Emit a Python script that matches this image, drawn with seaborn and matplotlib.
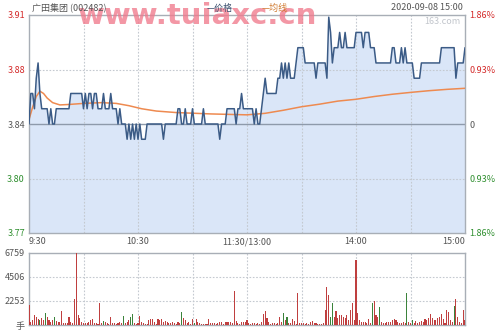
import matplotlib
matplotlib.use("Agg")
import matplotlib.pyplot as plt
import seaborn as sns
import pandas as pd

sns.set_theme(style="white")
plt.rcParams['font.family'] = ['Noto Sans CJK SC', 'DejaVu Sans']

# ---------------- data ----------------
minutes = list(range(241))
price = [
    3.84, 3.86, 3.86, 3.85, 3.87, 3.88, 3.86, 3.85, 3.85, 3.85,
    3.85, 3.84, 3.85, 3.84, 3.84, 3.85, 3.85, 3.85, 3.85, 3.85,
    3.85, 3.85, 3.85, 3.86, 3.86, 3.86, 3.86, 3.86, 3.86, 3.86,
    3.85, 3.86, 3.85, 3.86, 3.86, 3.85, 3.86, 3.86, 3.85, 3.85,
    3.85, 3.86, 3.85, 3.85, 3.85, 3.86, 3.85, 3.85, 3.85, 3.84,
    3.85, 3.84, 3.84, 3.84, 3.83, 3.84, 3.83, 3.84, 3.83, 3.84,
    3.83, 3.84, 3.83, 3.83, 3.83, 3.84, 3.84, 3.84, 3.84, 3.84,
    3.84, 3.84, 3.84, 3.84, 3.83, 3.84, 3.84, 3.84, 3.84, 3.84,
    3.84, 3.84, 3.85, 3.85, 3.84, 3.84, 3.85, 3.84, 3.84, 3.84,
    3.85, 3.84, 3.84, 3.84, 3.84, 3.84, 3.85, 3.84, 3.84, 3.84,
    3.84, 3.84, 3.84, 3.84, 3.84, 3.83, 3.84, 3.84, 3.84, 3.85,
    3.85, 3.85, 3.85, 3.85, 3.84, 3.85, 3.85, 3.86, 3.85, 3.85,
    3.85, 3.85, 3.85, 3.85, 3.84, 3.85, 3.84, 3.84, 3.85, 3.86,
    3.87, 3.86, 3.86, 3.86, 3.86, 3.86, 3.86, 3.87, 3.87, 3.88,
    3.87, 3.88, 3.87, 3.88, 3.87, 3.87, 3.87, 3.88, 3.89, 3.89,
    3.89, 3.89, 3.88, 3.88, 3.88, 3.88, 3.88, 3.88, 3.87, 3.88,
    3.88, 3.88, 3.88, 3.88, 3.87, 3.91, 3.90, 3.88, 3.89, 3.89,
    3.89, 3.90, 3.89, 3.89, 3.90, 3.89, 3.89, 3.89, 3.89, 3.89,
    3.90, 3.90, 3.90, 3.90, 3.89, 3.90, 3.90, 3.90, 3.89, 3.89,
    3.89, 3.88, 3.88, 3.88, 3.88, 3.88, 3.88, 3.88, 3.88, 3.88,
    3.89, 3.89, 3.88, 3.88, 3.88, 3.89, 3.88, 3.89, 3.88, 3.88,
    3.88, 3.88, 3.87, 3.87, 3.87, 3.87, 3.88, 3.88, 3.88, 3.88,
    3.88, 3.88, 3.88, 3.88, 3.88, 3.88, 3.88, 3.89, 3.89, 3.89,
    3.89, 3.89, 3.89, 3.89, 3.89, 3.87, 3.88, 3.88, 3.88, 3.88,
    3.89,
]
avg_minutes = [0, 2, 4, 6, 8, 10, 13, 17, 22, 30, 40, 48, 55, 62, 70, 81,
               100, 120, 130, 140, 150, 160, 170, 180, 190, 200, 210, 220,
               230, 240]
avg_price = [3.843, 3.851, 3.858, 3.8615, 3.860, 3.857, 3.854, 3.8525,
             3.8528, 3.8535, 3.854, 3.8535, 3.852, 3.850, 3.8485, 3.8475,
             3.8466, 3.846, 3.847, 3.849, 3.8513, 3.853, 3.855, 3.8562,
             3.858, 3.8595, 3.8607, 3.8618, 3.8627, 3.8634]
volume = [
    1880, 300, 470, 940, 785, 530, 470, 630, 470, 1160,
    785, 470, 310, 470, 720, 380, 310, 310, 1350, 160,
    160, 160, 785, 310, 160, 2450, 6759, 940, 630, 310,
    220, 160, 160, 310, 470, 560, 160, 160, 100, 2100,
    160, 380, 310, 160, 100, 785, 160, 160, 100, 160,
    310, 160, 880, 160, 310, 470, 720, 1040, 160, 100,
    160, 880, 310, 160, 100, 100, 470, 530, 560, 310,
    100, 560, 470, 560, 310, 380, 310, 160, 220, 310,
    160, 100, 310, 160, 1260, 630, 470, 160, 310, 100,
    530, 160, 530, 310, 160, 100, 100, 70, 100, 530,
    220, 220, 160, 100, 160, 250, 310, 100, 310, 250,
    250, 250, 160, 3200, 380, 220, 100, 310, 310, 310,
    470, 160, 100, 160, 160, 100, 160, 100, 310, 1040,
    1350, 630, 310, 100, 160, 160, 100, 160, 720, 310,
    1100, 470, 720, 160, 160, 560, 380, 100, 3050, 160,
    160, 160, 100, 160, 100, 310, 380, 160, 160, 100,
    70, 100, 160, 1410, 3610, 2830, 785, 2100, 785, 1350,
    630, 940, 940, 785, 630, 940, 470, 1410, 2100, 470,
    6060, 1160, 470, 310, 310, 310, 220, 530, 160, 2040,
    2260, 940, 785, 1660, 310, 220, 220, 310, 310, 310,
    470, 530, 470, 310, 160, 220, 310, 160, 3050, 310,
    160, 470, 160, 400, 160, 310, 400, 300, 530, 470,
    630, 1010, 630, 470, 470, 630, 785, 1000, 530, 160,
    1410, 1260, 470, 310, 1790, 2420, 785, 310, 160, 1410,
    470,
]
green_minutes = [6, 9, 14, 41, 52, 56, 57, 84, 91, 140, 142, 166, 167,
                 189, 193, 208, 211, 234]

prev_close = 3.84
pct_levels = [-1.86, -0.93, 0.0, 0.93, 1.86]
price_tick_labels = ['3.77', '3.80', '3.84', '3.88', '3.91']
pct_tick_labels = ['1.86%', '0.93%', '0', '0.93%', '1.86%']
time_ticks = [0, 60, 120, 180, 240]
time_labels = ['9:30', '10:30', '11:30/13:00', '14:00', '15:00']
vol_ticks = [0, 2253, 4506, 6759]
vol_tick_labels = ['手', '2253', '4506', '6759']

# ---------------- styling ----------------
RED = '#d42a2a'
GREEN = '#2f8f2f'
GRAY_TXT = '#555555'
LINE_BLUE = '#3b5b86'
AVG_ORANGE = '#ee8a50'
FILL_BLUE = '#dae6f8'
SPINE = '#a8aeb6'
GRID = '#c4c9d0'
label_colors = [GREEN, GREEN, GRAY_TXT, RED, RED]

fig = plt.figure(figsize=(5.0, 3.33), dpi=100)
fig.patch.set_facecolor('white')
ax = fig.add_axes([29/500, 1-233/333, 436/500, 218/333])
axv = fig.add_axes([29/500, 1-325/333, 436/500, 72/333])

ylevels = [prev_close * (1 + p/100) for p in pct_levels]
ylo, yhi = ylevels[0], ylevels[-1]

df = pd.DataFrame({'minute': minutes, 'price': price, 'volume': volume})
df['dir'] = ['down' if m in green_minutes else 'up' for m in minutes]

# price panel
ax.fill_between(df['minute'], df['price'], ylo, color=FILL_BLUE, lw=0, zorder=1)
for m in [30, 60, 90, 120, 150, 180, 210]:
    ax.axvline(m, color=GRID, lw=0.8, ls=(0, (1.5, 1.5)), zorder=2)
for lv in [ylevels[1], ylevels[3]]:
    ax.axhline(lv, color=GRID, lw=0.8, ls=(0, (1.5, 1.5)), zorder=2)
ax.axhline(prev_close, color='#8e9aab', lw=1.0, zorder=2)
sns.lineplot(data=df, x='minute', y='price', ax=ax, color=LINE_BLUE,
             lw=1.1, zorder=4)
sns.lineplot(x=avg_minutes, y=avg_price, ax=ax, color=AVG_ORANGE,
             lw=1.1, zorder=3)
ax.set_xlim(0, 240)
ax.set_ylim(ylo, yhi)
ax.set_xlabel('')
ax.set_ylabel('')
ax.set_yticks(ylevels)
ax.set_yticklabels(price_tick_labels)
for t, c in zip(ax.get_yticklabels(), label_colors):
    t.set_color(c)
ax.set_xticks(time_ticks)
ax.set_xticklabels(time_labels)
xt = ax.get_xticklabels()
xt[0].set_ha('left')
xt[-1].set_ha('right')
for t in xt:
    t.set_color(GRAY_TXT)
ax.tick_params(axis='both', length=0, labelsize=6.5, pad=3)
for s in ax.spines.values():
    s.set_color(SPINE)
    s.set_linewidth(1.0)

axr = ax.twinx()
axr.set_ylim(ylo, yhi)
axr.set_yticks(ylevels)
axr.set_yticklabels(pct_tick_labels)
for t, c in zip(axr.get_yticklabels(), label_colors):
    t.set_color(c)
axr.tick_params(axis='y', length=0, labelsize=6.5, pad=3)
for s in axr.spines.values():
    s.set_visible(False)
axr.grid(False)

# volume panel
for m in [30, 60, 90, 120, 150, 180, 210]:
    axv.axvline(m, color=GRID, lw=0.8, ls=(0, (1.5, 1.5)), zorder=0)
for lv in [2253, 4506]:
    axv.axhline(lv, color=GRID, lw=0.8, ls=(0, (1.5, 1.5)), zorder=0)
sns.barplot(data=df, x='minute', y='volume', hue='dir', native_scale=True,
            palette={'up': RED, 'down': GREEN}, dodge=False, width=0.6,
            linewidth=0, legend=False, ax=axv, zorder=3)
axv.set_xlim(0, 240)
axv.set_ylim(0, 6759)
axv.set_xlabel('')
axv.set_ylabel('')
axv.set_xticks([])
axv.set_yticks(vol_ticks)
axv.set_yticklabels(vol_tick_labels)
for t in axv.get_yticklabels():
    t.set_color(GRAY_TXT)
axv.tick_params(axis='y', length=0, labelsize=6.5, pad=3)
for s in axv.spines.values():
    s.set_color(SPINE)
    s.set_linewidth(1.0)

# watermark (behind the header texts, above the axes)
fig.text(78/500, 1-16/333, 'www.tuiaxc.cn', fontsize=21, fontweight='bold',
         color='#f07a8c', alpha=0.78, va='center', ha='left',
         family='DejaVu Sans', zorder=2)

# header texts
fig.text(32/500, 1-8/333, '广田集团 (002482)', fontsize=6.5, color=GRAY_TXT,
         va='center', ha='left', zorder=5)
fig.text(207/500, 1-8/333, '—价格', fontsize=6.5, color='#3b4f6e',
         va='center', ha='left', zorder=5)
fig.text(262/500, 1-8/333, '—均线', fontsize=6.5, color='#d07a30',
         va='center', ha='left', zorder=5)
fig.text(463/500, 1-8/333, '2020-09-08 15:00', fontsize=6.5, color=GRAY_TXT,
         va='center', ha='right', zorder=5)
fig.text(460/500, 1-22/333, '163.com', fontsize=6.5, color='#c2c6cc',
         va='center', ha='right', zorder=5)

fig.savefig('out.png', dpi=100)
